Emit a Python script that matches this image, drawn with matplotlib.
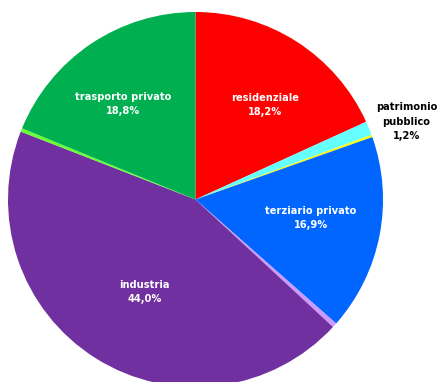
import matplotlib
matplotlib.use("Agg")
import matplotlib.pyplot as plt
import numpy as np

categories = ["residenziale", "patrimonio\npubblico", "altro1", "terziario privato", "altro2", "industria", "altro3", "trasporto privato"]
values = [18.2, 1.2, 0.2, 16.9, 0.4, 44.0, 0.3, 18.8]
pct_labels = ["18,2%", "1,2%", None, "16,9%", None, "44,0%", None, "18,8%"]
colors = ["#FF0000", "#66FFFF", "#FFFF00", "#0066FF", "#CC99FF", "#7030A0", "#66FF33", "#00B050"]

# label layout (distance as fraction of radius, angular shift in degrees)
label_r = [0.627, 1.199, 0, 0.624, 0, 0.563, 0, 0.64]
label_shift = [-3.7, -2.1, 0, 1.9, 0, 3.1, 0, 3.4]

W, H = 441, 382
cx, cy, R = 195.5, 199.5, 187.5

fig = plt.figure(figsize=(W / 100, H / 100), dpi=100)
ax = fig.add_axes([0, 0, 1, 1])
ax.axis("off")
wedges, _ = ax.pie(values, colors=colors, startangle=90, counterclock=False,
                   radius=1.0, wedgeprops=dict(linewidth=0))
ax.set_aspect("auto")
ax.set_xlim(-cx / R, (W - cx) / R)
ax.set_ylim(-(H - cy) / R, cy / R)

total = sum(values)
cum = 0
for i, v in enumerate(values):
    mid = 90 - (cum + v / 2) / total * 360
    cum += v
    if pct_labels[i] is None:
        continue
    inside = v > 5
    a = np.radians(mid + label_shift[i])
    x = label_r[i] * np.cos(a)
    y = label_r[i] * np.sin(a)
    ax.text(x, y, categories[i] + "\n" + pct_labels[i], ha="center", va="center",
            color="white" if inside else "black", fontsize=7.1, fontweight="bold",
            linespacing=1.55)

fig.savefig("out.png", dpi=100)
